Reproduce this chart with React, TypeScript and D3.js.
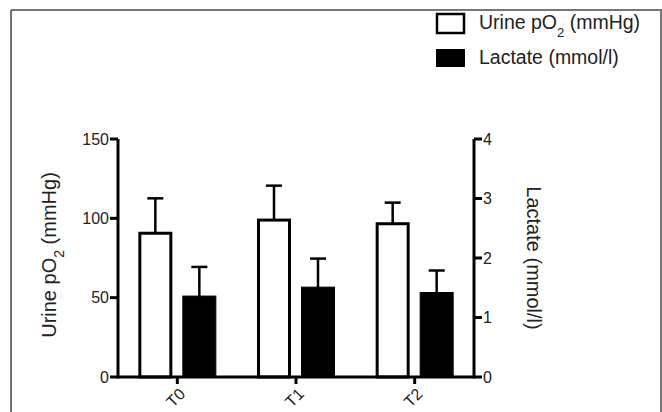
import React from "react";
import * as d3 from "d3";

// data
const categories = ["T0", "T1", "T2"];
const po2Mean = [90.6, 98.9, 96.6];
const po2Err = [22, 21.7, 13.3];
const lactateMean = [1.36, 1.51, 1.42];
const lactateErr = [0.49, 0.48, 0.37];
const leftTicks = [0, 50, 100, 150];
const rightTicks = [0, 1, 2, 3, 4];

const W = 662;
const H = 412;
const left = 118;
const right = 474;
const top = 139;
const bottom = 377;
const font = "'Liberation Sans', Arial, sans-serif";
const ink = "#222";

export default function App() {
  const x = d3.scaleBand<string>().domain(categories).range([left, right]).padding(0);
  const yL = d3.scaleLinear().domain([0, 150]).range([bottom, top]);
  const yR = d3.scaleLinear().domain([0, 4]).range([bottom, top]);
  const barW = 31;
  const off = 22;
  const cap = 8;

  const center = (c: string) => (x(c) ?? 0) + x.bandwidth() / 2;

  return (
    <svg
      width={W}
      height={H}
      style={{ position: "absolute", left: 0, top: 0, background: "#fff" }}
      fontFamily={font}
    >
      {/* frame */}
      <line x1={11} y1={10} x2={662} y2={10} stroke="#777" strokeWidth={2} />
      <line x1={11} y1={10} x2={11} y2={412} stroke="#444" strokeWidth={1.5} />
      <line x1={661} y1={10} x2={661} y2={412} stroke="#777" strokeWidth={2} />

      {/* bars */}
      {categories.map((c, i) => {
        const cx = center(c);
        const wx = cx - off;
        const bx = cx + off;
        const wt = yL(po2Mean[i]);
        const we = yL(po2Mean[i] + po2Err[i]);
        const bt = yR(lactateMean[i]);
        const be = yR(lactateMean[i] + lactateErr[i]);
        return (
          <g key={c}>
            <line x1={wx} x2={wx} y1={wt} y2={we} stroke="#000" strokeWidth={2.5} />
            <line x1={wx - cap} x2={wx + cap} y1={we} y2={we} stroke="#000" strokeWidth={2.5} />
            <rect
              x={wx - barW / 2}
              y={wt}
              width={barW}
              height={bottom - wt}
              fill="#fff"
              stroke="#000"
              strokeWidth={3}
            />
            <line x1={bx} x2={bx} y1={bt} y2={be} stroke="#000" strokeWidth={2.5} />
            <line x1={bx - cap} x2={bx + cap} y1={be} y2={be} stroke="#000" strokeWidth={2.5} />
            <rect
              x={bx - barW / 2 - 1}
              y={bt}
              width={barW + 2}
              height={bottom - bt}
              fill="#000"
              stroke="#000"
              strokeWidth={1}
            />
          </g>
        );
      })}

      {/* x axis */}
      <line x1={left} x2={right} y1={bottom} y2={bottom} stroke="#000" strokeWidth={3} />
      {categories.map((c) => {
        const cx = center(c);
        return (
          <g key={c}>
            <line x1={cx} x2={cx} y1={bottom} y2={bottom + 7} stroke="#000" strokeWidth={3} />
            <text
              transform={`translate(${cx + 6},${bottom + 15}) rotate(-45)`}
              textAnchor="end"
              dominantBaseline="middle"
              fontSize={16}
              fill={ink}
            >
              {c}
            </text>
          </g>
        );
      })}

      {/* left axis */}
      <line x1={left} x2={left} y1={top} y2={bottom + 1.5} stroke="#000" strokeWidth={3} />
      {leftTicks.map((t) => (
        <g key={t}>
          <line x1={left - 8} x2={left} y1={yL(t)} y2={yL(t)} stroke="#000" strokeWidth={3} />
          <text x={left - 9} y={yL(t)} textAnchor="end" dominantBaseline="central" fontSize={16} fill={ink}>
            {t}
          </text>
        </g>
      ))}

      {/* right axis */}
      <line x1={right} x2={right} y1={top} y2={bottom + 1.5} stroke="#000" strokeWidth={3} />
      {rightTicks.map((t) => (
        <g key={t}>
          <line x1={right} x2={right + 8} y1={yR(t)} y2={yR(t)} stroke="#000" strokeWidth={3} />
          <text x={right + 9} y={yR(t)} dominantBaseline="central" fontSize={16} fill={ink}>
            {t}
          </text>
        </g>
      ))}

      {/* axis titles */}
      <text
        transform={`translate(56,255) rotate(-90)`}
        textAnchor="middle"
        fontSize={20}
        fill={ink}
      >
        Urine pO<tspan baselineShift="sub" fontSize={14}>2</tspan> (mmHg)
      </text>
      <text
        transform={`translate(527,258) rotate(90)`}
        textAnchor="middle"
        fontSize={20}
        fill={ink}
      >
        Lactate (mmol/l)
      </text>

      {/* legend */}
      <rect x={437} y={14} width={27} height={19} fill="#fff" stroke="#000" strokeWidth={2.5} />
      <text x={479} y={29} fontSize={19.5} fill={ink}>
        Urine pO<tspan baselineShift="sub" fontSize={13}>2</tspan> (mmHg)
      </text>
      <rect x={436} y={49} width={29} height={18} fill="#000" />
      <text x={479} y={64} fontSize={19.5} fill={ink}>
        Lactate (mmol/l)
      </text>
    </svg>
  );
}
